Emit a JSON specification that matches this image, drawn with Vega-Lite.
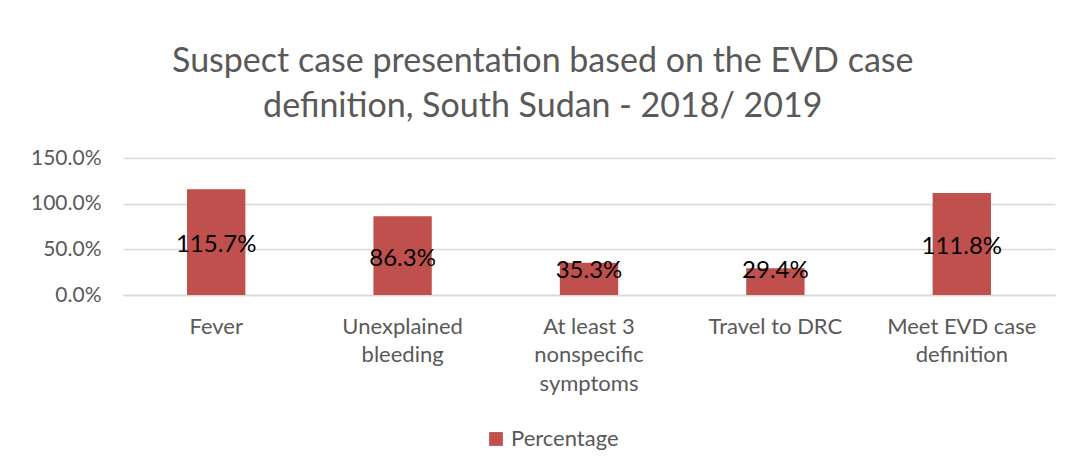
{
  "$schema": "https://vega.github.io/schema/vega-lite/v6.json",
  "width": 932,
  "height": 137,
  "autosize": {"type": "pad"},
  "padding": {"left": 30, "top": 45, "right": 12, "bottom": 10},
  "background": "white",
  "title": {
    "text": ["Suspect case presentation based on the EVD case", "definition, South Sudan - 2018/ 2019"],
    "fontSize": 34,
    "font": "Lato",
    "fontWeight": "normal",
    "color": "#595959",
    "anchor": "middle",
    "frame": "bounds",
    "lineHeight": 45,
    "offset": 23
  },
  "data": {
    "values": [
      {"category": "Fever", "value": 1.157},
      {"category": "Unexplained bleeding", "value": 0.863},
      {"category": "At least 3 nonspecific symptoms", "value": 0.353},
      {"category": "Travel to DRC", "value": 0.294},
      {"category": "Meet EVD case definition", "value": 1.118}
    ]
  },
  "transform": [{"calculate": "max(datum.value / 2, 0.3)", "as": "labelPos"}],
  "encoding": {
    "x": {
      "field": "category",
      "type": "nominal",
      "sort": null,
      "title": null,
      "scale": {"paddingInner": 0.687, "paddingOuter": 0.3435},
      "axis": {
        "labelAngle": 0,
        "labelFont": "Lato",
        "labelFontSize": 22,
        "labelColor": "#595959",
        "labelPadding": 21,
        "labelLineHeight": 28.5,
        "labelBaseline": "top",
        "ticks": false,
        "domainColor": "#d9d9d9",
        "domainWidth": 1.5,
        "labelExpr": "datum.label == 'Unexplained bleeding' ? ['Unexplained', 'bleeding'] : datum.label == 'At least 3 nonspecific symptoms' ? ['At least 3', 'nonspecific', 'symptoms'] : datum.label == 'Meet EVD case definition' ? ['Meet EVD case', 'definition'] : datum.label"
      }
    }
  },
  "layer": [
    {
      "mark": {"type": "bar", "color": "#C0504D"},
      "encoding": {
        "y": {
          "field": "value",
          "type": "quantitative",
          "title": null,
          "scale": {"domain": [0, 1.5], "nice": false},
          "axis": {
            "values": [0, 0.5, 1, 1.5],
            "format": ".1%",
            "labelFont": "Lato",
            "labelFontSize": 21,
            "labelColor": "#595959",
            "labelPadding": 22,
            "ticks": false,
            "domain": false,
            "gridColor": "#d9d9d9",
            "gridWidth": 1.5
          }
        },
        "color": {
          "datum": "Percentage",
          "type": "nominal",
          "scale": {"range": ["#C0504D"]},
          "legend": {
            "title": null,
            "orient": "none",
            "legendX": 362,
            "legendY": 270,
            "direction": "horizontal",
            "symbolType": "square",
            "symbolSize": 190,
            "symbolStrokeWidth": 0,
            "labelFont": "Lato",
            "labelFontSize": 22,
            "labelColor": "#595959"
          }
        }
      }
    },
    {
      "mark": {"type": "text", "font": "Lato", "fontSize": 24, "color": "black", "dy": 3, "baseline": "middle"},
      "encoding": {
        "y": {"field": "labelPos", "type": "quantitative"},
        "text": {"field": "value", "type": "quantitative", "format": ".1%"}
      }
    }
  ],
  "config": {
    "view": {"stroke": null}
  }
}
